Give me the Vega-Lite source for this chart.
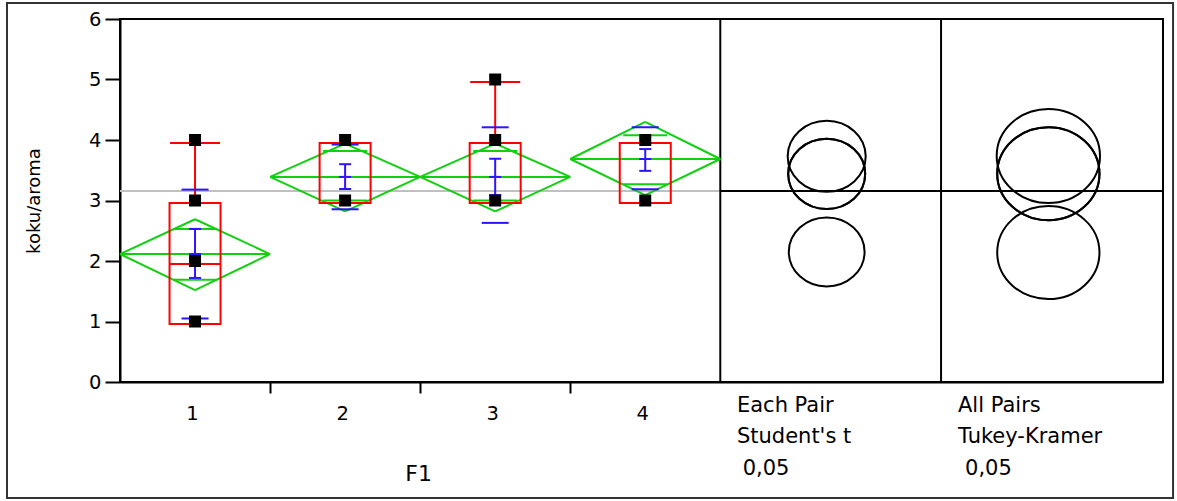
{
  "$schema": "https://vega.github.io/schema/vega-lite/v6.json",
  "width": 1043,
  "height": 363,
  "autosize": {"type": "none"},
  "padding": {"left": 120, "top": 19, "right": 14, "bottom": 119},
  "background": "white",
  "config": {
    "font": "DejaVu Sans",
    "view": {"stroke": "black", "strokeWidth": 2},
    "scale": {"continuousPadding": 0},
    "axis": {
      "grid": false, "domainColor": "black", "domainWidth": 2,
      "tickColor": "black", "tickWidth": 2,
      "labelColor": "black", "labelFont": "DejaVu Sans", "labelFontSize": 19.5,
      "titleFont": "DejaVu Sans", "titleFontSize": 18, "titleFontWeight": "normal", "titleColor": "black",
      "labelFlush": false, "labelOverlap": false, "labelBound": false
    }
  },
  "datasets": {
    "groups": [
      {"F1": 1, "mean": 2.115, "ci_lo": 1.52, "ci_hi": 2.69, "ov_lo": 1.69, "ov_hi": 2.53, "se_lo": 1.72, "se_hi": 2.53, "sd_lo": 1.05, "sd_hi": 3.18, "q1": 0.96, "median": 1.95, "q3": 2.96, "whisker_hi": 3.95},
      {"F1": 2, "mean": 3.39, "ci_lo": 2.82, "ci_hi": 3.94, "ov_lo": 3.0, "ov_hi": 3.82, "se_lo": 3.19, "se_hi": 3.6, "sd_lo": 2.855, "sd_hi": 3.925, "q1": 2.96, "median": 2.96, "q3": 3.95, "whisker_hi": 3.95},
      {"F1": 3, "mean": 3.39, "ci_lo": 2.82, "ci_hi": 3.94, "ov_lo": 3.0, "ov_hi": 3.82, "se_lo": 3.09, "se_hi": 3.69, "sd_lo": 2.63, "sd_hi": 4.21, "q1": 2.96, "median": 2.96, "q3": 3.95, "whisker_hi": 4.96},
      {"F1": 4, "mean": 3.686, "ci_lo": 3.09, "ci_hi": 4.3, "ov_lo": 3.27, "ov_hi": 4.08, "se_lo": 3.49, "se_hi": 3.85, "sd_lo": 3.185, "sd_hi": 4.21, "q1": 2.96, "median": 3.95, "q3": 3.95, "whisker_hi": 3.95}
    ],
    "points": [
      {"F1": 1, "value": 4}, {"F1": 1, "value": 3}, {"F1": 1, "value": 2}, {"F1": 1, "value": 1},
      {"F1": 2, "value": 4}, {"F1": 2, "value": 3},
      {"F1": 3, "value": 5}, {"F1": 3, "value": 4}, {"F1": 3, "value": 3},
      {"F1": 4, "value": 4}, {"F1": 4, "value": 3}
    ],
    "circles": [
      {"method": "Student's t", "F1": 4, "center": 3.73, "radius": 0.587},
      {"method": "Student's t", "F1": 2, "center": 3.44, "radius": 0.579},
      {"method": "Student's t", "F1": 3, "center": 3.44, "radius": 0.579},
      {"method": "Student's t", "F1": 1, "center": 2.15, "radius": 0.57},
      {"method": "Tukey-Kramer", "F1": 4, "center": 3.736, "radius": 0.777},
      {"method": "Tukey-Kramer", "F1": 2, "center": 3.443, "radius": 0.769},
      {"method": "Tukey-Kramer", "F1": 3, "center": 3.443, "radius": 0.769},
      {"method": "Tukey-Kramer", "F1": 1, "center": 2.14, "radius": 0.769}
    ],
    "overall": [{"grand_mean": 3.157}]
  },
  "resolve": {"axis": {"x": "independent", "y": "independent"}},
  "layer": [
    {
      "data": {"values": [{}]},
      "mark": {"type": "rect", "filled": false, "color": "#333333", "strokeWidth": 2, "opacity": 1},
      "encoding": {
        "x": {"datum": -0.253, "type": "quantitative", "scale": {"domain": [0.5, 7.45], "nice": false, "zero": false, "padding": 0}, "axis": null},
        "x2": {"datum": 7.517},
        "y": {"datum": 6.264, "type": "quantitative", "scale": {"domain": [0, 6], "nice": false, "zero": false}, "axis": null},
        "y2": {"datum": -1.917}
      }
    },
    {
      "data": {"name": "overall"},
      "mark": {"type": "rule", "color": "#c0c0c0", "strokeWidth": 2},
      "encoding": {
        "x": {"datum": 0.5, "type": "quantitative", "scale": {"domain": [0.5, 7.45], "nice": false, "zero": false, "padding": 0},
              "axis": {"orient": "bottom", "values": [1.5, 2.5, 3.5], "labels": false, "tickSize": 11, "title": null}},
        "x2": {"datum": 4.5},
        "y": {"field": "grand_mean", "type": "quantitative", "scale": {"domain": [0, 6], "nice": false, "zero": false}, "axis": null}
      }
    },
    {
      "data": {"name": "overall"},
      "mark": {"type": "rule", "color": "black", "strokeWidth": 2},
      "encoding": {
        "x": {"datum": 4.5, "type": "quantitative", "scale": {"domain": [0.5, 7.45], "nice": false, "zero": false, "padding": 0}, "axis": null},
        "x2": {"datum": 7.45},
        "y": {"field": "grand_mean", "type": "quantitative", "scale": {"domain": [0, 6], "nice": false, "zero": false}, "axis": null}
      }
    },
    {
      "data": {"values": [{}]},
      "mark": {"type": "rule", "color": "black", "strokeWidth": 2},
      "encoding": {
        "x": {"datum": 4.5, "type": "quantitative", "scale": {"domain": [0.5, 7.45], "nice": false, "zero": false, "padding": 0}, "axis": null},
        "y": {"datum": 0, "type": "quantitative", "scale": {"domain": [0, 6], "nice": false, "zero": false}, "axis": null},
        "y2": {"datum": 6}
      }
    },
    {
      "data": {"values": [{}]},
      "mark": {"type": "rule", "color": "black", "strokeWidth": 2},
      "encoding": {
        "x": {"datum": 5.971, "type": "quantitative", "scale": {"domain": [0.5, 7.45], "nice": false, "zero": false, "padding": 0}, "axis": null},
        "y": {"datum": 0, "type": "quantitative", "scale": {"domain": [0, 6], "nice": false, "zero": false}, "axis": null},
        "y2": {"datum": 6}
      }
    },
    {
      "data": {"name": "groups"},
      "layer": [
        {
          "transform": [
            {"bin": {"step": 1, "anchor": 0.5, "extent": [0, 5]}, "field": "F1", "as": ["xs", "xe"]},
            {"fold": ["ci_lo", "ci_hi"], "as": ["bound", "ylim"]}
          ],
          "mark": {"type": "rule", "color": "#10d010", "strokeWidth": 2},
          "encoding": {
            "x": {"field": "xs", "type": "quantitative", "scale": {"domain": [0.5, 7.45], "nice": false, "zero": false, "padding": 0}, "axis": null},
            "x2": {"field": "F1"},
            "y": {"field": "mean", "type": "quantitative", "scale": {"domain": [0, 6], "nice": false, "zero": false}, "axis": null},
            "y2": {"field": "ylim"}
          }
        },
        {
          "transform": [
            {"bin": {"step": 1, "anchor": 0.5, "extent": [0, 5]}, "field": "F1", "as": ["xs", "xe"]},
            {"fold": ["ci_lo", "ci_hi"], "as": ["bound", "ylim"]}
          ],
          "mark": {"type": "rule", "color": "#10d010", "strokeWidth": 2},
          "encoding": {
            "x": {"field": "F1", "type": "quantitative", "scale": {"domain": [0.5, 7.45], "nice": false, "zero": false, "padding": 0}, "axis": null},
            "x2": {"field": "xe"},
            "y": {"field": "ylim", "type": "quantitative", "scale": {"domain": [0, 6], "nice": false, "zero": false}, "axis": null},
            "y2": {"field": "mean"}
          }
        },
        {
          "transform": [
            {"bin": {"step": 1, "anchor": 0.5, "extent": [0, 5]}, "field": "F1", "as": ["xs", "xe"]}
          ],
          "mark": {"type": "rule", "color": "#10d010", "strokeWidth": 2},
          "encoding": {
            "x": {"field": "xs", "type": "quantitative", "scale": {"domain": [0.5, 7.45], "nice": false, "zero": false, "padding": 0}, "axis": null},
            "x2": {"field": "xe"},
            "y": {"field": "mean", "type": "quantitative", "scale": {"domain": [0, 6], "nice": false, "zero": false}, "axis": null}
          }
        },
        {
          "transform": [{"fold": ["ov_lo", "ov_hi"], "as": ["mark_name", "level"]}],
          "mark": {"type": "tick", "orient": "horizontal", "color": "#10d010", "size": 44, "thickness": 2, "opacity": 1},
          "encoding": {
            "x": {"field": "F1", "type": "quantitative", "scale": {"domain": [0.5, 7.45], "nice": false, "zero": false, "padding": 0}, "axis": null},
            "y": {"field": "level", "type": "quantitative", "scale": {"domain": [0, 6], "nice": false, "zero": false}, "axis": null}
          }
        },
        {
          "mark": {"type": "bar", "size": 51, "filled": false, "color": "#ff0000", "strokeWidth": 2, "opacity": 1},
          "encoding": {
            "x": {"field": "F1", "type": "quantitative", "scale": {"domain": [0.5, 7.45], "nice": false, "zero": false, "padding": 0}, "axis": null},
            "y": {"field": "q1", "type": "quantitative", "scale": {"domain": [0, 6], "nice": false, "zero": false}, "axis": null},
            "y2": {"field": "q3"}
          }
        },
        {
          "mark": {"type": "tick", "orient": "horizontal", "color": "#ff0000", "size": 51, "thickness": 2, "opacity": 1},
          "encoding": {
            "x": {"field": "F1", "type": "quantitative", "scale": {"domain": [0.5, 7.45], "nice": false, "zero": false, "padding": 0}, "axis": null},
            "y": {"field": "median", "type": "quantitative", "scale": {"domain": [0, 6], "nice": false, "zero": false}, "axis": null}
          }
        },
        {
          "mark": {"type": "rule", "color": "#ff0000", "strokeWidth": 2},
          "encoding": {
            "x": {"field": "F1", "type": "quantitative", "scale": {"domain": [0.5, 7.45], "nice": false, "zero": false, "padding": 0}, "axis": null},
            "y": {"field": "q3", "type": "quantitative", "scale": {"domain": [0, 6], "nice": false, "zero": false}, "axis": null},
            "y2": {"field": "whisker_hi"}
          }
        },
        {
          "mark": {"type": "tick", "orient": "horizontal", "color": "#ff0000", "size": 50, "thickness": 2, "opacity": 1},
          "encoding": {
            "x": {"field": "F1", "type": "quantitative", "scale": {"domain": [0.5, 7.45], "nice": false, "zero": false, "padding": 0}, "axis": null},
            "y": {"field": "whisker_hi", "type": "quantitative", "scale": {"domain": [0, 6], "nice": false, "zero": false}, "axis": null}
          }
        },
        {
          "mark": {"type": "rule", "color": "#2d14ff", "strokeWidth": 2},
          "encoding": {
            "x": {"field": "F1", "type": "quantitative", "scale": {"domain": [0.5, 7.45], "nice": false, "zero": false, "padding": 0}, "axis": null},
            "y": {"field": "se_lo", "type": "quantitative", "scale": {"domain": [0, 6], "nice": false, "zero": false}, "axis": null},
            "y2": {"field": "se_hi"}
          }
        },
        {
          "transform": [{"fold": ["se_lo", "mean", "se_hi"], "as": ["mark_name", "level"]}],
          "mark": {"type": "tick", "orient": "horizontal", "color": "#2d14ff", "size": 12, "thickness": 2, "opacity": 1},
          "encoding": {
            "x": {"field": "F1", "type": "quantitative", "scale": {"domain": [0.5, 7.45], "nice": false, "zero": false, "padding": 0}, "axis": null},
            "y": {"field": "level", "type": "quantitative", "scale": {"domain": [0, 6], "nice": false, "zero": false}, "axis": null}
          }
        },
        {
          "transform": [{"fold": ["sd_lo", "sd_hi"], "as": ["mark_name", "level"]}],
          "mark": {"type": "tick", "orient": "horizontal", "color": "#2d14ff", "size": 27, "thickness": 2, "opacity": 1},
          "encoding": {
            "x": {"field": "F1", "type": "quantitative", "scale": {"domain": [0.5, 7.45], "nice": false, "zero": false, "padding": 0}, "axis": null},
            "y": {"field": "level", "type": "quantitative", "scale": {"domain": [0, 6], "nice": false, "zero": false}, "axis": null}
          }
        }
      ]
    },
    {
      "data": {"name": "points"},
      "mark": {"type": "point", "shape": "square", "filled": true, "color": "black", "size": 144, "opacity": 1},
      "encoding": {
        "x": {"field": "F1", "type": "quantitative", "scale": {"domain": [0.5, 7.45], "nice": false, "zero": false, "padding": 0},
              "axis": {"orient": "bottom", "values": [1, 2, 3, 4], "ticks": false, "domain": false, "labelPadding": 22, "labelOffset": -3, "labelFontSize": 19.5, "labelFont": "DejaVu Sans", "title": null, "format": "d"}},
        "y": {"field": "value", "type": "quantitative", "scale": {"domain": [0, 6], "nice": false, "zero": false},
              "axis": {"orient": "left", "title": "koku/aroma", "values": [0, 1, 2, 3, 4, 5, 6], "tickSize": 15, "labelPadding": 4, "labelFontSize": 19.5, "labelFont": "DejaVu Sans", "titleFontSize": 18, "titleFont": "DejaVu Sans", "titlePadding": 45, "format": "d"}}
      }
    },
    {
      "data": {"name": "circles"},
      "transform": [{"filter": {"field": "method", "equal": "Student's t"}}],
      "mark": {"type": "point", "shape": "M-1,0A1,0.91,0,1,1,1,0A1,0.91,0,1,1,-1,0Z", "filled": false, "color": "black", "strokeWidth": 2, "opacity": 1},
      "encoding": {
        "x": {"datum": 5.209, "type": "quantitative", "scale": {"domain": [0.5, 7.45], "nice": false, "zero": false, "padding": 0}, "axis": null},
        "y": {"field": "center", "type": "quantitative", "scale": {"domain": [0, 6], "nice": false, "zero": false}, "axis": null},
        "size": {"field": "radius", "type": "quantitative", "scale": {"type": "pow", "exponent": 2, "domain": [0, 1], "range": [0, 17680]}, "legend": null}
      }
    },
    {
      "data": {"name": "circles"},
      "transform": [{"filter": {"field": "method", "equal": "Tukey-Kramer"}}],
      "mark": {"type": "point", "shape": "M-1,0A1,0.91,0,1,1,1,0A1,0.91,0,1,1,-1,0Z", "filled": false, "color": "black", "strokeWidth": 2, "opacity": 1},
      "encoding": {
        "x": {"datum": 6.686, "type": "quantitative", "scale": {"domain": [0.5, 7.45], "nice": false, "zero": false, "padding": 0}, "axis": null},
        "y": {"field": "center", "type": "quantitative", "scale": {"domain": [0, 6], "nice": false, "zero": false}, "axis": null},
        "size": {"field": "radius", "type": "quantitative", "scale": {"type": "pow", "exponent": 2, "domain": [0, 1], "range": [0, 17680]}, "legend": null}
      }
    },
    {
      "data": {"values": [{}]},
      "mark": {"type": "text", "text": "F1", "fontSize": 22, "align": "center", "baseline": "alphabetic", "color": "black", "font": "DejaVu Sans"},
      "encoding": {
        "x": {"datum": 2.49, "type": "quantitative", "scale": {"domain": [0.5, 7.45], "nice": false, "zero": false, "padding": 0}, "axis": null},
        "y": {"datum": -1.636, "type": "quantitative", "scale": {"domain": [0, 6], "nice": false, "zero": false}, "axis": null}
      }
    },
    {
      "data": {"values": [{}]},
      "mark": {"type": "text", "text": ["Each Pair", "Student's t"], "lineHeight": 31.7, "fontSize": 21, "align": "left", "baseline": "alphabetic", "color": "black", "font": "DejaVu Sans"},
      "encoding": {
        "x": {"datum": 4.611, "type": "quantitative", "scale": {"domain": [0.5, 7.45], "nice": false, "zero": false, "padding": 0}, "axis": null},
        "y": {"datum": -0.491, "type": "quantitative", "scale": {"domain": [0, 6], "nice": false, "zero": false}, "axis": null}
      }
    },
    {
      "data": {"values": [{}]},
      "mark": {"type": "text", "text": "0,05", "fontSize": 21, "align": "left", "baseline": "alphabetic", "color": "black", "font": "DejaVu Sans"},
      "encoding": {
        "x": {"datum": 4.649, "type": "quantitative", "scale": {"domain": [0.5, 7.45], "nice": false, "zero": false, "padding": 0}, "axis": null},
        "y": {"datum": -1.537, "type": "quantitative", "scale": {"domain": [0, 6], "nice": false, "zero": false}, "axis": null}
      }
    },
    {
      "data": {"values": [{}]},
      "mark": {"type": "text", "text": ["All Pairs", "Tukey-Kramer"], "lineHeight": 31.7, "fontSize": 21, "align": "left", "baseline": "alphabetic", "color": "black", "font": "DejaVu Sans"},
      "encoding": {
        "x": {"datum": 6.084, "type": "quantitative", "scale": {"domain": [0.5, 7.45], "nice": false, "zero": false, "padding": 0}, "axis": null},
        "y": {"datum": -0.491, "type": "quantitative", "scale": {"domain": [0, 6], "nice": false, "zero": false}, "axis": null}
      }
    },
    {
      "data": {"values": [{}]},
      "mark": {"type": "text", "text": "0,05", "fontSize": 21, "align": "left", "baseline": "alphabetic", "color": "black", "font": "DejaVu Sans"},
      "encoding": {
        "x": {"datum": 6.131, "type": "quantitative", "scale": {"domain": [0.5, 7.45], "nice": false, "zero": false, "padding": 0}, "axis": null},
        "y": {"datum": -1.537, "type": "quantitative", "scale": {"domain": [0, 6], "nice": false, "zero": false}, "axis": null}
      }
    }
  ]
}
